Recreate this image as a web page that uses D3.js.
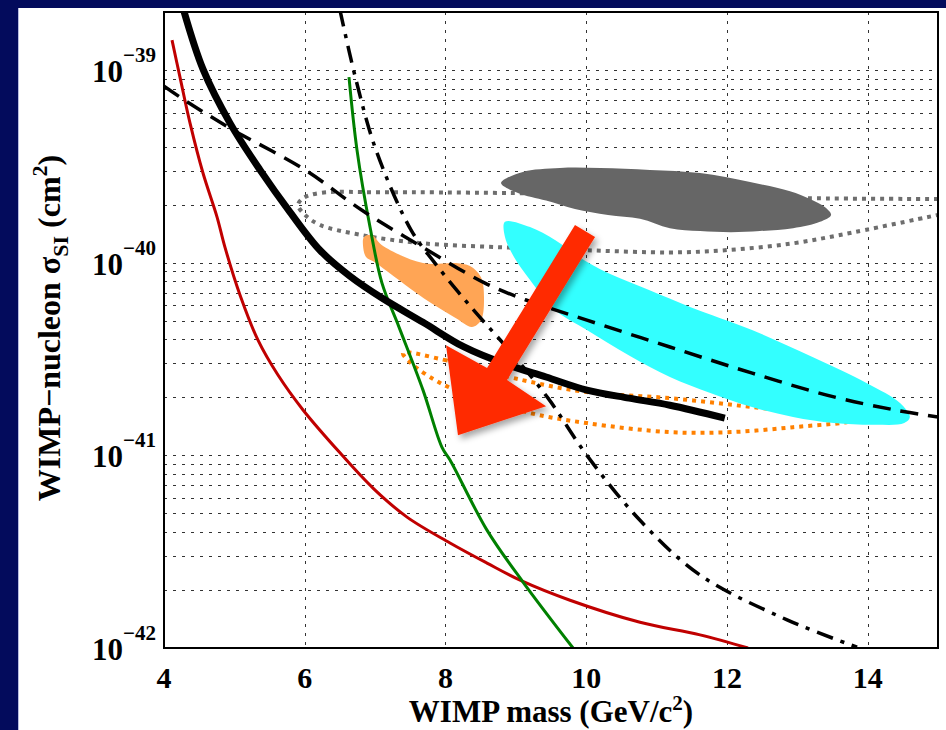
<!DOCTYPE html>
<html>
<head>
<meta charset="utf-8">
<script src="https://cdn.jsdelivr.net/npm/d3@7"></script>
<style>
  html, body { margin: 0; padding: 0; background: #030b5c; }
  svg { display: block; }
</style>
</head>
<body>
<svg id="chart" width="946" height="730"></svg>
<script>
// ---- axis ticks ----
const xTickValues = [4, 6, 8, 10, 12, 14];
const xGridValues = [6, 8, 10, 12, 14];
const yDecadeExponents = [-39, -40, -41, -42];

// ---- limit curves: [WIMP mass (GeV/c^2), sigma_SI (cm^2)] ----
const solidBlack = [
  [4.27, 2.1e-39], [4.554, 1.01e-39], [4.938, 5.3e-40], [5.364, 3.03e-40],
  [5.791, 1.83e-40], [6.217, 1.16e-40], [6.644, 8.5e-41], [7.098, 6.55e-41],
  [7.681, 4.9e-41], [8.264, 3.65e-41], [8.846, 2.98e-41], [9.43, 2.55e-41],
  [10.01, 2.18e-41], [10.61, 1.98e-41], [11.19, 1.82e-41], [11.97, 1.56e-41]
];
const dashedBlack = [
  [4.0, 8.24e-40], [4.27, 7.06e-40], [4.938, 4.99e-40], [6.004, 3.03e-40],
  [6.814, 1.87e-40], [7.681, 1.2e-40], [8.562, 7.83e-41], [9.145, 6.4e-41],
  [10.01, 5.03e-41], [11.19, 3.65e-41], [12.36, 2.67e-41], [13.52, 2.01e-41],
  [14.39, 1.72e-41], [15.0, 1.58e-41]
];
const dashDotBlack = [
  [6.50, 2.05e-39], [6.729, 8.87e-40], [7.013, 3.84e-40], [7.51, 1.48e-40],
  [7.85, 9.95e-41], [8.377, 5.8e-41], [8.903, 3.52e-41], [9.458, 1.98e-41],
  [10.01, 1.0e-41], [10.765, 4.6e-42], [11.618, 2.39e-42],
  [12.855, 1.4e-42], [13.85, 1.01e-42]
];
const redCurve = [
  [4.114, 1.43e-39], [4.227, 9.18e-40], [4.37, 5.3e-40], [4.554, 2.92e-40],
  [4.753, 1.73e-40], [4.867, 1.2e-40], [5.08, 6.8e-41], [5.336, 3.96e-41],
  [5.62, 2.61e-41], [5.976, 1.72e-41], [6.501, 1.03e-41], [6.97, 6.76e-42],
  [7.454, 4.78e-42], [8.065, 3.51e-42], [8.59, 2.76e-42], [9.06, 2.25e-42],
  [9.77, 1.77e-42], [10.765, 1.36e-42], [11.618, 1.17e-42], [12.3, 1.0e-42]
];
const greenCurve = [
  [6.629, 9.18e-40], [6.743, 3.84e-40], [6.928, 1.53e-40], [7.098, 7.83e-41],
  [7.34, 4.63e-41], [7.681, 2.18e-41], [7.951, 1.1e-41], [8.065, 9.46e-42],
  [8.59, 4.09e-42], [9.102, 2.2e-42], [9.813, 1.0e-42]
];

// ---- contours (dotted outlines) ----
const grayContour = [
  [15.0, 2.14e-40], [13.167, 2.16e-40], [11.618, 2.22e-40], [8.846, 2.3e-40],
  [7.098, 2.32e-40], [6.217, 2.3e-40], [5.976, 2.16e-40], [5.905, 1.99e-40],
  [6.004, 1.77e-40], [6.217, 1.57e-40], [6.814, 1.39e-40], [7.681, 1.26e-40],
  [8.846, 1.2e-40], [10.01, 1.16e-40], [11.19, 1.13e-40], [11.97, 1.16e-40],
  [12.94, 1.26e-40], [13.81, 1.44e-40], [15.0, 1.77e-40]
];
const orangeContour = [
  [7.397, 3.4e-41], [7.98, 3.13e-41], [9.088, 2.46e-41], [10.01, 2.13e-41],
  [11.19, 1.98e-41], [12.357, 1.78e-41], [13.466, 1.6e-41], [13.75, 1.51e-41],
  [12.94, 1.4e-41], [12.06, 1.32e-41], [11.19, 1.32e-41], [10.01, 1.47e-41],
  [9.2, 1.66e-41], [8.15, 2.18e-41], [7.85, 2.46e-41], [7.51, 3.01e-41]
];

// ---- filled regions ----
const grayRegion = [
  [8.79, 2.59e-40], [9.088, 2.95e-40], [9.628, 3.1e-40], [10.197, 3.1e-40],
  [10.907, 3.03e-40], [11.618, 2.92e-40], [12.329, 2.62e-40], [12.897, 2.35e-40],
  [13.181, 2.14e-40], [13.395, 1.94e-40], [13.48, 1.77e-40], [13.323, 1.63e-40],
  [12.94, 1.51e-40], [12.47, 1.46e-40], [12.06, 1.44e-40], [11.618, 1.46e-40],
  [11.19, 1.51e-40], [10.765, 1.69e-40], [10.31, 1.77e-40], [9.84, 1.9e-40],
  [9.43, 2.1e-40], [9.03, 2.3e-40]
];
const cyanRegion = [
  [8.846, 1.63e-40], [9.202, 1.53e-40], [9.557, 1.31e-40], [9.898, 1.07e-40],
  [10.31, 8.83e-41], [10.893, 7.21e-41], [11.476, 5.89e-41], [12.357, 4.47e-41],
  [13.224, 3.23e-41], [13.99, 2.37e-41], [14.46, 1.87e-41], [14.6, 1.58e-41],
  [14.52, 1.47e-41], [14.105, 1.44e-41], [13.52, 1.47e-41], [12.94, 1.58e-41],
  [12.357, 1.78e-41], [11.774, 2.1e-41], [11.19, 2.55e-41], [10.61, 3.3e-41],
  [10.01, 4.47e-41], [9.557, 5.68e-41], [9.202, 8.13e-41], [8.974, 1.07e-40],
  [8.846, 1.36e-40]
];
const orangeRegion = [
  [6.843, 1.36e-40], [6.956, 1.39e-40], [7.098, 1.23e-40], [7.681, 9.95e-41],
  [8.15, 9.95e-41], [8.349, 9.6e-41], [8.505, 8.4e-41], [8.548, 6.4e-41],
  [8.505, 5.03e-41], [8.377, 4.64e-41], [8.15, 5.15e-41], [7.795, 6.17e-41],
  [7.397, 7.83e-41], [6.985, 1.01e-40], [6.871, 1.07e-40], [6.828, 1.23e-40]
];

// ---- annotation arrow outline ----
const arrowShape = [
  [9.841, 1.57e-40], [10.126, 1.36e-40], [8.875, 2.46e-41], [9.43, 1.8e-41],
  [8.178, 1.27e-41], [8.008, 3.73e-41], [8.591, 2.84e-41]
];

// ---------------------------------------------------------------
const svg = d3.select("#chart");
const W = 946, H = 730;
const margin = { left: 164, right: 938, top: 12, bottom: 648 };

const x = d3.scaleLinear().domain([4, 15]).range([margin.left, margin.right]);
const y = d3.scaleLog().domain([1e-42, 2e-39]).range([margin.bottom, margin.top]);

const serif = "'Liberation Serif', 'Times New Roman', Times, serif";

// page background: navy frame with white slide panel
svg.append("rect").attr("width", W).attr("height", H).attr("fill", "#030b5c");
svg.append("rect").attr("x", 18).attr("y", 8).attr("width", W - 18).attr("height", H - 8)
  .attr("fill", "#ffffff");
svg.append("line").attr("x1", 18.5).attr("x2", 18.5).attr("y1", 8).attr("y2", H)
  .attr("stroke", "#b8bde0").attr("stroke-width", 1);

const defs = svg.append("defs");
defs.append("clipPath").attr("id", "plotClip").append("rect")
  .attr("x", margin.left).attr("y", margin.top)
  .attr("width", margin.right - margin.left).attr("height", margin.bottom - margin.top);
const shadow = defs.append("filter").attr("id", "arrowShadow")
  .attr("x", "-20%").attr("y", "-20%").attr("width", "150%").attr("height", "150%");
shadow.append("feDropShadow").attr("dx", 3).attr("dy", 4).attr("stdDeviation", 3)
  .attr("flood-color", "#000").attr("flood-opacity", 0.35);

// ---- grid ----
const grid = svg.append("g").attr("clip-path", "url(#plotClip)");
const yGridValues = [];
for (let e = -42; e <= -39; e++) {
  for (let k = 1; k <= 9; k++) {
    const v = k * Math.pow(10, e);
    if (v > 1e-42 && v < 2e-39 * 0.999) yGridValues.push(v);
  }
}
grid.selectAll("line.hgrid").data(yGridValues).join("line")
  .attr("class", "hgrid")
  .attr("x1", margin.left).attr("x2", margin.right)
  .attr("y1", d => Math.round(y(d)) + 0.5).attr("y2", d => Math.round(y(d)) + 0.5)
  .attr("stroke", "#333").attr("stroke-width", 1).attr("stroke-dasharray", "3,6");
grid.selectAll("line.vgrid").data(xGridValues).join("line")
  .attr("class", "vgrid")
  .attr("x1", d => Math.round(x(d)) + 0.5).attr("x2", d => Math.round(x(d)) + 0.5)
  .attr("y1", margin.top).attr("y2", margin.bottom)
  .attr("stroke", "#333").attr("stroke-width", 1).attr("stroke-dasharray", "3,6");

// ---- data layer ----
const layer = svg.append("g").attr("clip-path", "url(#plotClip)");
const line = d3.line().x(d => x(d[0])).y(d => y(d[1])).curve(d3.curveCatmullRom.alpha(0.5));
const closed = d3.line().x(d => x(d[0])).y(d => y(d[1])).curve(d3.curveCatmullRomClosed.alpha(0.5));

layer.append("path").datum(grayContour).attr("d", line)
  .attr("fill", "none").attr("stroke", "#6e6e6e").attr("stroke-width", 4)
  .attr("stroke-dasharray", "4,5");
layer.append("path").datum(grayRegion).attr("d", closed).attr("fill", "#666666");
layer.append("path").datum(orangeContour).attr("d", closed)
  .attr("fill", "none").attr("stroke", "#ff8000").attr("stroke-width", 4)
  .attr("stroke-dasharray", "4,5");
layer.append("path").datum(cyanRegion).attr("d", closed).attr("fill", "#33ffff");
layer.append("path").datum(orangeRegion).attr("d", closed).attr("fill", "#ffa555");

layer.append("path").datum(redCurve).attr("d", line)
  .attr("fill", "none").attr("stroke", "#c00000").attr("stroke-width", 3);
layer.append("path").datum(greenCurve).attr("d", line)
  .attr("fill", "none").attr("stroke", "#008000").attr("stroke-width", 3);
layer.append("path").datum(solidBlack).attr("d", line)
  .attr("fill", "none").attr("stroke", "#000").attr("stroke-width", 7);
layer.append("path").datum(dashedBlack).attr("d", line)
  .attr("fill", "none").attr("stroke", "#000").attr("stroke-width", 3.5)
  .attr("stroke-dasharray", "18,10");
layer.append("path").datum(dashDotBlack).attr("d", line)
  .attr("fill", "none").attr("stroke", "#000").attr("stroke-width", 3.5)
  .attr("stroke-dasharray", "17,8,4,8");

// annotation arrow
svg.append("path").datum(arrowShape)
  .attr("d", d3.line().x(d => x(d[0])).y(d => y(d[1])).curve(d3.curveLinearClosed))
  .attr("fill", "#ff2a00").attr("filter", "url(#arrowShadow)");

// ---- axes frame ----
svg.append("rect")
  .attr("x", margin.left).attr("y", margin.top)
  .attr("width", margin.right - margin.left).attr("height", margin.bottom - margin.top)
  .attr("fill", "none").attr("stroke", "#000").attr("stroke-width", 2);

// ---- tick labels ----
svg.selectAll("text.xtick").data(xTickValues).join("text")
  .attr("class", "xtick")
  .attr("x", d => x(d)).attr("y", 688)
  .attr("text-anchor", "middle")
  .attr("font-family", serif).attr("font-weight", "bold").attr("font-size", 30)
  .attr("fill", "#000")
  .text(d => d);

const yLabels = svg.selectAll("g.ytick").data(yDecadeExponents).join("g").attr("class", "ytick");
yLabels.append("text")
  .attr("x", 123).attr("y", d => y(Math.pow(10, d)) + 12)
  .attr("text-anchor", "end")
  .attr("font-family", serif).attr("font-weight", "bold").attr("font-size", 31)
  .attr("fill", "#000").text("10");
yLabels.append("text")
  .attr("x", 123).attr("y", d => y(Math.pow(10, d)) - 8)
  .attr("text-anchor", "start")
  .attr("font-family", serif).attr("font-weight", "bold").attr("font-size", 21)
  .attr("fill", "#000").text(d => "\u2212" + Math.abs(d));

// ---- axis titles ----
const xTitle = svg.append("text")
  .attr("x", 551).attr("y", 722)
  .attr("text-anchor", "middle")
  .attr("font-family", serif).attr("font-weight", "bold").attr("font-size", 31)
  .attr("fill", "#000");
xTitle.append("tspan").text("WIMP mass (GeV/c");
xTitle.append("tspan").attr("dy", -12).attr("font-size", 21).text("2");
xTitle.append("tspan").attr("dy", 12).text(")");

const yTitle = svg.append("text")
  .attr("transform", "translate(60,328) rotate(-90)")
  .attr("text-anchor", "middle")
  .attr("font-family", serif).attr("font-weight", "bold").attr("font-size", 32)
  .attr("fill", "#000");
yTitle.append("tspan").text("WIMP\u2212nucleon \u03c3");
yTitle.append("tspan").attr("dy", 8).attr("font-size", 22).text("SI");
yTitle.append("tspan").attr("dy", -8).text(" (cm");
yTitle.append("tspan").attr("dy", -13).attr("font-size", 22).text("2");
yTitle.append("tspan").attr("dy", 13).text(")");
</script>
</body>
</html>
